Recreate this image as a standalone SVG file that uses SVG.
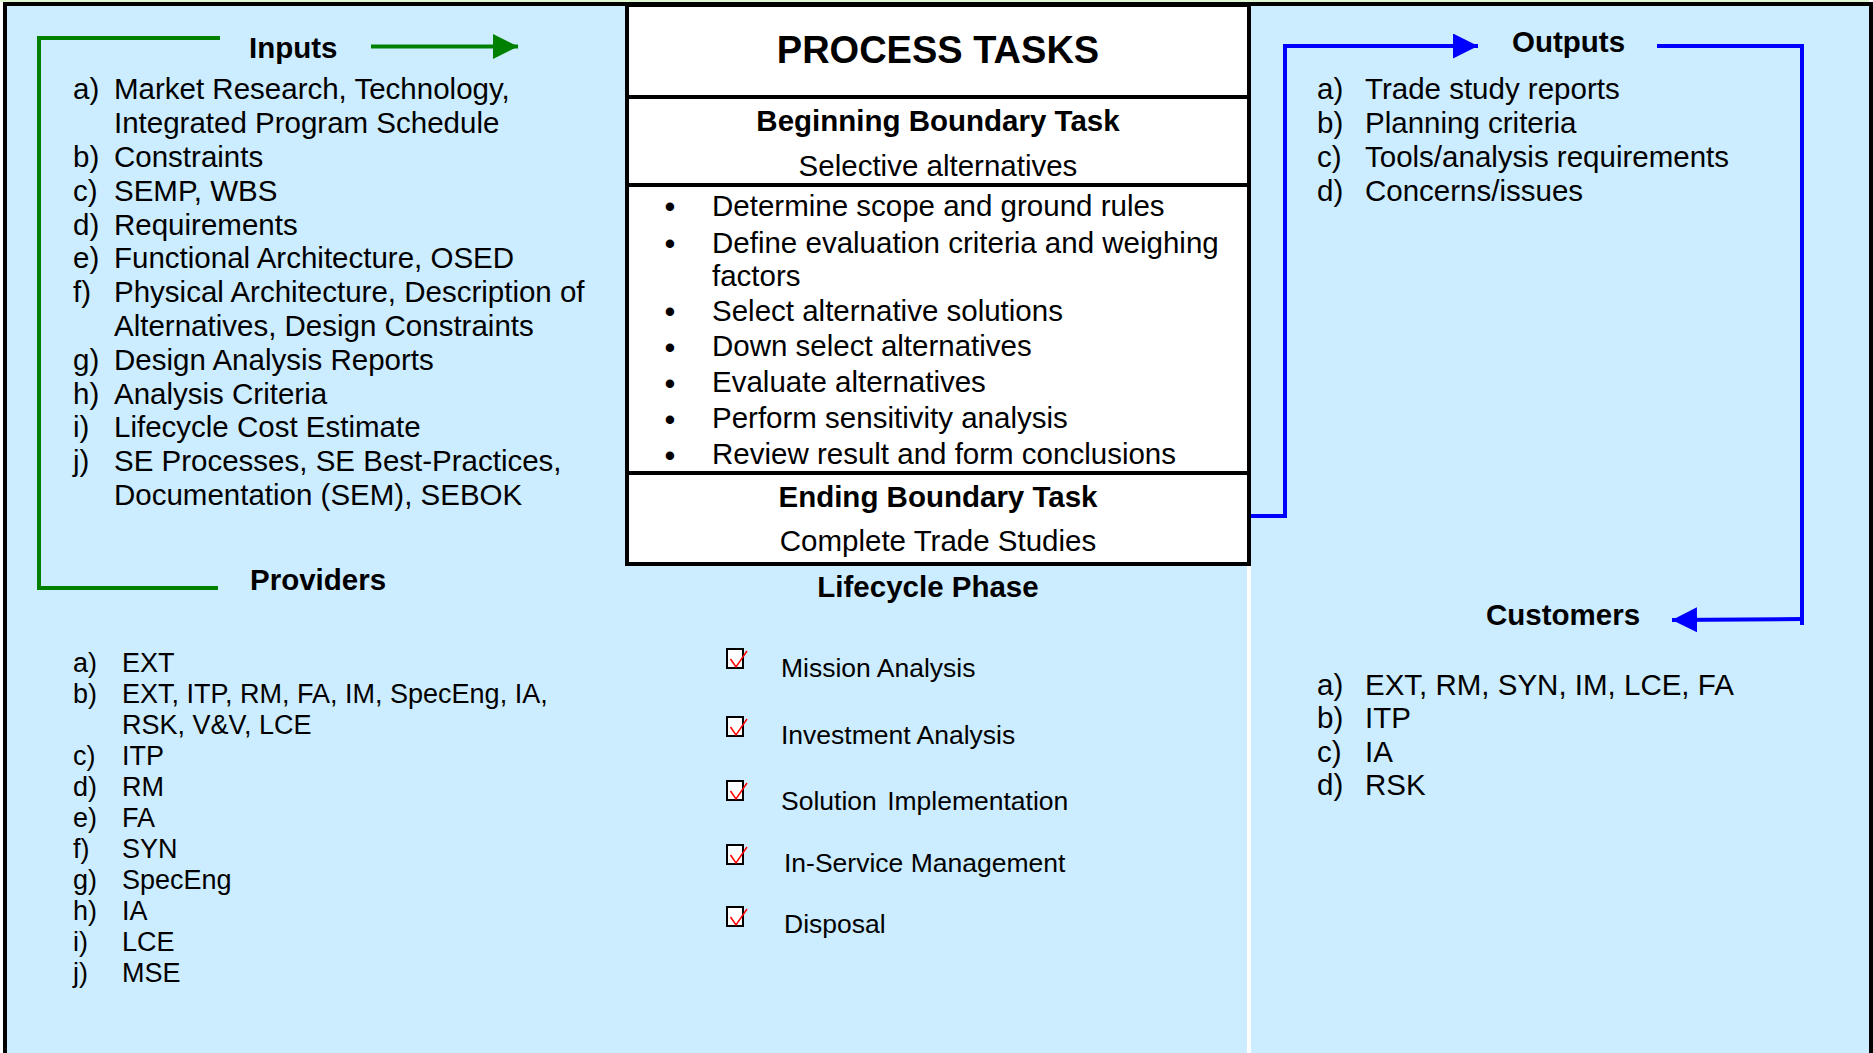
<svg xmlns="http://www.w3.org/2000/svg" width="1873" height="1053" viewBox="0 0 1873 1053">
<defs>
<style>
text{font-family:"Liberation Sans",Arial,Helvetica,sans-serif;fill:#000}
.h{font-weight:bold;font-size:29.5px}
.t{font-size:29.5px}
.p{font-size:27px}
.l{font-size:26.5px}
.c{text-anchor:middle}
.bul{font-size:31px;text-anchor:middle}
.div{stroke:#000;stroke-width:4}
.g{fill:none;stroke:#008000;stroke-width:4}
.b{fill:none;stroke:#0000FF;stroke-width:4}
.cb{fill:#fff;stroke:#000;stroke-width:2}
.ck{fill:none;stroke:#FF0000;stroke-width:1.5}
</style>
<marker id="ag" markerUnits="userSpaceOnUse" markerWidth="26" markerHeight="26" refX="25" refY="12.5" orient="auto"><path d="M0,0 L25,12.5 L0,25 Z" fill="#008000"/></marker>
<marker id="ab" markerUnits="userSpaceOnUse" markerWidth="26" markerHeight="26" refX="25" refY="12.5" orient="auto"><path d="M0,0 L25,12.5 L0,25 Z" fill="#0000FF"/></marker>
</defs>
<rect x="0" y="0" width="1873" height="1053" fill="#fff"/>
<rect x="0" y="0" width="1869" height="2" fill="#E0F7D4"/>
<rect id="frame" x="5" y="4" width="1866" height="1070" fill="#CCECFF" stroke="#000" stroke-width="4"/>
<line x1="1249" y1="564" x2="1249" y2="1053" stroke="#fff" stroke-width="4"/>

<g id="inputs">
<text class="h" x="249" y="58">Inputs</text>
<text class="t" x="73" y="99">a)</text><text class="t" x="114" y="99">Market Research, Technology,</text>
<text class="t" x="114" y="133">Integrated Program Schedule</text>
<text class="t" x="73" y="167">b)</text><text class="t" x="114" y="167">Constraints</text>
<text class="t" x="73" y="201">c)</text><text class="t" x="114" y="201">SEMP, WBS</text>
<text class="t" x="73" y="235">d)</text><text class="t" x="114" y="235">Requirements</text>
<text class="t" x="73" y="268">e)</text><text class="t" x="114" y="268">Functional Architecture, OSED</text>
<text class="t" x="73" y="302">f)</text><text class="t" x="114" y="302">Physical Architecture, Description of</text>
<text class="t" x="114" y="336">Alternatives, Design Constraints</text>
<text class="t" x="73" y="370">g)</text><text class="t" x="114" y="370">Design Analysis Reports</text>
<text class="t" x="73" y="404">h)</text><text class="t" x="114" y="404">Analysis Criteria</text>
<text class="t" x="73" y="437">i)</text><text class="t" x="114" y="437">Lifecycle Cost Estimate</text>
<text class="t" x="73" y="471">j)</text><text class="t" x="114" y="471">SE Processes, SE Best-Practices,</text>
<text class="t" x="114" y="505">Documentation (SEM), SEBOK</text>
</g>

<g id="providers">
<text class="h" x="250" y="590">Providers</text>
<text class="p" x="73" y="672">a)</text><text class="p" x="122" y="672">EXT</text>
<text class="p" x="73" y="703">b)</text><text class="p" x="122" y="703">EXT, ITP, RM, FA, IM, SpecEng, IA,</text>
<text class="p" x="122" y="734">RSK, V&amp;V, LCE</text>
<text class="p" x="73" y="765">c)</text><text class="p" x="122" y="765">ITP</text>
<text class="p" x="73" y="796">d)</text><text class="p" x="122" y="796">RM</text>
<text class="p" x="73" y="827">e)</text><text class="p" x="122" y="827">FA</text>
<text class="p" x="73" y="858">f)</text><text class="p" x="122" y="858">SYN</text>
<text class="p" x="73" y="889">g)</text><text class="p" x="122" y="889">SpecEng</text>
<text class="p" x="73" y="920">h)</text><text class="p" x="122" y="920">IA</text>
<text class="p" x="73" y="951">i)</text><text class="p" x="122" y="951">LCE</text>
<text class="p" x="73" y="982">j)</text><text class="p" x="122" y="982">MSE</text>
</g>

<g id="process-tasks">
<rect x="627" y="5" width="622" height="559" fill="#fff" stroke="#000" stroke-width="4"/>
<line class="div" x1="627" y1="97" x2="1249" y2="97"/>
<line class="div" x1="627" y1="185" x2="1249" y2="185"/>
<line class="div" x1="627" y1="473" x2="1249" y2="473"/>
<text class="c" x="938" y="63" font-weight="bold" font-size="38">PROCESS TASKS</text>
<text class="h c" x="938" y="131">Beginning Boundary Task</text>
<text class="t c" x="938" y="176">Selective alternatives</text>
<text class="bul" x="670" y="217">•</text><text class="t" x="712" y="215.5">Determine scope and ground rules</text>
<text class="bul" x="670" y="254">•</text><text class="t" x="712" y="252.5">Define evaluation criteria and weighing</text>
<text class="t" x="712" y="286">factors</text>
<text class="bul" x="670" y="322">•</text><text class="t" x="712" y="320.5">Select alternative solutions</text>
<text class="bul" x="670" y="357.5">•</text><text class="t" x="712" y="356">Down select alternatives</text>
<text class="bul" x="670" y="393.5">•</text><text class="t" x="712" y="392">Evaluate alternatives</text>
<text class="bul" x="670" y="429.5">•</text><text class="t" x="712" y="428">Perform sensitivity analysis</text>
<text class="bul" x="670" y="465.5">•</text><text class="t" x="712" y="464">Review result and form conclusions</text>
<text class="h c" x="938" y="507">Ending Boundary Task</text>
<text class="t c" x="938" y="551">Complete Trade Studies</text>
</g>

<g id="lifecycle-phase">
<text class="h c" x="928" y="597">Lifecycle Phase</text>
<rect class="cb" x="727" y="649" width="16" height="19"/><path class="ck" d="M730.5,659 L736,667 L747,651"/>
<text class="l" x="781" y="677">Mission Analysis</text>
<rect class="cb" x="727" y="717" width="16" height="19"/><path class="ck" d="M730.5,727 L736,735 L747,719"/>
<text class="l" x="781" y="744">Investment Analysis</text>
<rect class="cb" x="727" y="781" width="16" height="19"/><path class="ck" d="M730.5,791 L736,799 L747,783"/>
<text class="l" x="781" y="810" word-spacing="3">Solution Implementation</text>
<rect class="cb" x="727" y="845" width="16" height="19"/><path class="ck" d="M730.5,855 L736,863 L747,847"/>
<text class="l" x="784" y="872">In-Service Management</text>
<rect class="cb" x="727" y="907" width="16" height="19"/><path class="ck" d="M730.5,917 L736,925 L747,909"/>
<text class="l" x="784" y="933">Disposal</text>
</g>

<g id="outputs">
<text class="h" x="1512" y="52">Outputs</text>
<text class="t" x="1317" y="99">a)</text><text class="t" x="1365" y="99">Trade study reports</text>
<text class="t" x="1317" y="133">b)</text><text class="t" x="1365" y="133">Planning criteria</text>
<text class="t" x="1317" y="167">c)</text><text class="t" x="1365" y="167">Tools/analysis requirements</text>
<text class="t" x="1317" y="201">d)</text><text class="t" x="1365" y="201">Concerns/issues</text>
</g>

<g id="customers">
<text class="h" x="1486" y="625">Customers</text>
<text class="t" x="1317" y="695">a)</text><text class="t" x="1365" y="695">EXT, RM, SYN, IM, LCE, FA</text>
<text class="t" x="1317" y="728">b)</text><text class="t" x="1365" y="728">ITP</text>
<text class="t" x="1317" y="762">c)</text><text class="t" x="1365" y="762">IA</text>
<text class="t" x="1317" y="795">d)</text><text class="t" x="1365" y="795">RSK</text>
</g>

<g id="connectors">
<polyline class="g" points="220,38 39,38 39,588 218,588"/>
<line class="g" x1="371" y1="46.5" x2="518" y2="46.5" marker-end="url(#ag)"/>
<polyline class="b" points="1251,516 1285,516 1285,46 1478,46" marker-end="url(#ab)"/>
<polyline class="b" points="1657,46 1802,46 1802,625"/>
<line class="b" x1="1802" y1="619" x2="1672" y2="620" marker-end="url(#ab)"/>
</g>
</svg>
